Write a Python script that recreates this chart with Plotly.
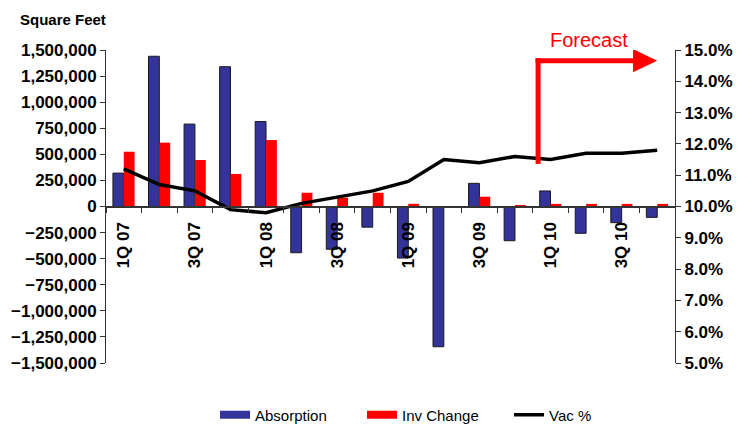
import plotly.graph_objects as go

quarters = ["1Q 07", "2Q 07", "3Q 07", "4Q 07", "1Q 08", "2Q 08", "3Q 08", "4Q 08",
            "1Q 09", "2Q 09", "3Q 09", "4Q 09", "1Q 10", "2Q 10", "3Q 10", "4Q 10"]
absorption = [320000, 1440000, 790000, 1340000, 815000, -443000, -410000, -198000,
              -494000, -1344000, 222000, -328000, 149000, -257000, -155000, -104000]
inv_change = [525000, 612000, 446000, 312000, 637000, 132000, 85000, 132000,
              26000, 0, 94000, 15000, 25000, 25000, 25000, 25000]
vac_pct = [11.2, 10.7, 10.5, 9.9, 9.8, 10.1, 10.3, 10.5,
           10.8, 11.5, 11.4, 11.6, 11.5, 11.7, 11.7, 11.8]
tick_text = [q if i % 2 == 0 else "" for i, q in enumerate(quarters)]

FONT = "Arial, Liberation Sans, sans-serif"
BLUE = "#333399"
RED = "#FF0000"

fig = go.Figure()
fig.add_trace(go.Bar(x=quarters, y=absorption, name="Absorption",
                     marker=dict(color=BLUE, line=dict(color="#1a1a1a", width=1)),
                     showlegend=False))
fig.add_trace(go.Bar(x=quarters, y=inv_change, name="Inv Change",
                     marker=dict(color=RED, line=dict(width=0)), showlegend=False))
fig.add_trace(go.Scatter(x=quarters, y=vac_pct, name="Vac %", mode="lines",
                         line=dict(color="black", width=3.5), yaxis="y2",
                         showlegend=False))
# legend proxies
fig.add_trace(go.Scatter(x=[None], y=[None], mode="lines", name="Absorption",
                         line=dict(color=BLUE, width=8)))
fig.add_trace(go.Scatter(x=[None], y=[None], mode="lines", name="Inv Change",
                         line=dict(color=RED, width=8)))
fig.add_trace(go.Scatter(x=[None], y=[None], mode="lines", name="Vac %",
                         line=dict(color="black", width=3.5)))

# Forecast arrow (annotation graphics)
fx, fy0, fy1, hx0, hx1, hh = 11.65, 11.36, 14.66, 14.32, 15.0, 0.37
fig.add_shape(type="line", xref="x", yref="y2", x0=fx, x1=fx, y0=fy0, y1=fy1 + 0.08,
              line=dict(color=RED, width=5))
fig.add_shape(type="line", xref="x", yref="y2", x0=fx - 0.07, x1=hx0 + 0.05, y0=fy1, y1=fy1,
              line=dict(color=RED, width=5))
fig.add_shape(type="path", xref="x", yref="y2",
              path=f"M {hx0},{fy1 - hh} L {hx1},{fy1} L {hx0},{fy1 + hh} Z",
              fillcolor=RED, line=dict(color=RED, width=0))
fig.add_annotation(x=0.848, y=1.032, xref="paper", yref="paper", text="Forecast",
                   xanchor="center", yanchor="middle",
                   showarrow=False, font=dict(family=FONT, size=20, color=RED))
fig.add_annotation(x=-0.154, y=1.099, xref="paper", yref="paper", text="<b>Square Feet</b>",
                   xanchor="left", yanchor="middle", showarrow=False,
                   font=dict(family=FONT, size=15, color="black"))

fig.update_layout(
    width=733, height=419,
    margin=dict(l=98, r=66, t=42, b=64),
    paper_bgcolor="white", plot_bgcolor="white",
    barmode="group", bargap=0.39, bargroupgap=0,
    font=dict(family=FONT, color="black"),
    xaxis=dict(type="category", anchor="free", position=0.5, automargin=False,
               tickmode="array", tickvals=quarters, ticktext=tick_text,
               tickson="boundaries", ticks="outside", ticklen=6, tickcolor="#333",
               tickangle=-90, ticklabelstandoff=8,
               tickfont=dict(family=FONT, size=17, color="black", weight="bold"),
               showline=True, linecolor="#333", linewidth=1.5, showgrid=False),
    yaxis=dict(range=[-1500000, 1500000], dtick=250000, tickformat=",", automargin=False,
               ticks="outside", ticklen=5, tickcolor="#333",
               showline=True, linecolor="#333", linewidth=1, showgrid=False, zeroline=False,
               tickfont=dict(family=FONT, size=17, color="black", weight="bold")),
    yaxis2=dict(range=[5, 15], dtick=1, tickformat=".1f", ticksuffix="%", automargin=False,
                overlaying="y", side="right", anchor="x",
                ticks="outside", ticklen=5, tickcolor="#333",
                showline=True, linecolor="#333", linewidth=1, showgrid=False, zeroline=False,
                tickfont=dict(family=FONT, size=17, color="black", weight="bold")),
    legend=dict(orientation="h", x=0.1916, xanchor="left", yref="container", y=0.0286,
                yanchor="middle", entrywidth=102, entrywidthmode="pixels",
                font=dict(family=FONT, size=15, color="black"), bgcolor="rgba(0,0,0,0)"),
)

fig.write_html("out.html")
